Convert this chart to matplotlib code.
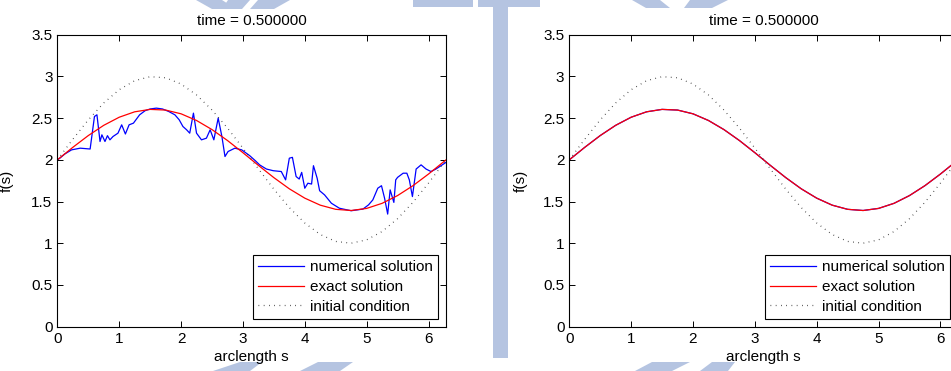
import numpy as np
import matplotlib
matplotlib.use("Agg")
import matplotlib.pyplot as plt
from matplotlib.patches import Polygon

plt.rcParams['font.family'] = ['Liberation Sans', 'DejaVu Sans']
plt.rcParams['font.size'] = 11

# arclength grid for the smooth curves
s_grid = [0.0, 0.25, 0.5, 0.75, 1.0, 1.25, 1.5, 1.75, 2.0, 2.25, 2.5, 2.75, 3.0,
          3.25, 3.5, 3.75, 4.0, 4.25, 4.5, 4.75, 5.0, 5.25, 5.5, 5.75, 6.0, 6.25, 6.2832]

exact_vals = [2.000, 2.150, 2.291, 2.414, 2.511, 2.576, 2.605, 2.597, 2.552, 2.472,
              2.363, 2.232, 2.086, 1.934, 1.787, 1.653, 1.541, 1.457, 1.407, 1.393,
              1.418, 1.479, 1.572, 1.691, 1.830, 1.980, 2.000]

initial_vals = [2.000, 2.247, 2.479, 2.682, 2.841, 2.949, 2.997, 2.984, 2.909, 2.778,
                2.598, 2.382, 2.141, 1.892, 1.649, 1.428, 1.243, 1.105, 1.022, 1.001,
                1.041, 1.141, 1.295, 1.492, 1.721, 1.967, 2.000]

# noisy numerical solution (left panel)
s_num = [0.00, 0.04, 0.12, 0.23, 0.37, 0.53, 0.60, 0.64, 0.69, 0.72, 0.77, 0.81,
         0.85, 0.90, 0.98, 1.04, 1.10, 1.16, 1.23, 1.33, 1.42, 1.50, 1.60, 1.70,
         1.80, 1.90, 1.97, 2.03, 2.09, 2.14, 2.20, 2.25, 2.33, 2.41, 2.47, 2.53,
         2.60, 2.66, 2.71, 2.76, 2.87, 2.98, 3.11, 3.20, 3.27, 3.38, 3.49, 3.62,
         3.69, 3.75, 3.80, 3.86, 3.91, 3.95, 4.00, 4.05, 4.11, 4.14, 4.20, 4.24,
         4.32, 4.43, 4.56, 4.75, 4.94, 5.03, 5.10, 5.18, 5.24, 5.29, 5.34, 5.38,
         5.44, 5.47, 5.50, 5.59, 5.65, 5.69, 5.74, 5.80, 5.88, 5.96, 6.04, 6.12,
         6.2832]
f_num = [2.00, 2.02, 2.07, 2.12, 2.14, 2.13, 2.52, 2.54, 2.22, 2.30, 2.22, 2.29,
         2.24, 2.28, 2.32, 2.42, 2.31, 2.42, 2.44, 2.54, 2.59, 2.61, 2.62, 2.61,
         2.58, 2.54, 2.48, 2.40, 2.36, 2.32, 2.56, 2.32, 2.24, 2.26, 2.36, 2.24,
         2.50, 2.28, 2.04, 2.10, 2.14, 2.12, 2.05, 1.99, 1.94, 1.89, 1.87, 1.86,
         1.76, 2.02, 2.03, 1.80, 1.77, 1.85, 1.66, 1.72, 1.71, 1.93, 1.78, 1.63,
         1.58, 1.48, 1.42, 1.39, 1.41, 1.46, 1.52, 1.66, 1.69, 1.54, 1.35, 1.64,
         1.49, 1.76, 1.79, 1.84, 1.84, 1.76, 1.56, 1.89, 1.94, 1.89, 1.86, 1.89,
         1.97]

# right panel: numerical solution matches exact one
f_num_right = list(exact_vals)

time_label = 'time = 0.500000'

W, H = 951, 371
fig = plt.figure(figsize=(W / 100, H / 100), dpi=100)

# faint background watermark (pixel outlines, only visible outside the axes)
wm_color = '#b5c4e1'
wm_shapes = [
    [(196, 0), (222, 0), (236, 9), (212, 9)],
    [(228, 0), (250, 0), (242, 9), (222, 9)],
    [(258, 0), (290, 0), (274, 9), (250, 9)],
    [(413, 0), (473, 0), (473, 7), (413, 7)],
    [(478, 0), (540, 0), (540, 7), (478, 7)],
    [(493, 7), (508, 7), (508, 358), (493, 358)],
    [(632, 0), (660, 0), (670, 8), (646, 8)],
    [(690, 0), (728, 0), (712, 8), (684, 8)],
    [(213, 371), (240, 362), (262, 362), (250, 371)],
    [(300, 371), (318, 362), (353, 362), (340, 371)],
    [(635, 371), (652, 362), (690, 362), (672, 371)],
    [(700, 371), (712, 362), (735, 362), (728, 371)],
]
for shp in wm_shapes:
    pts = [(x / W, 1 - y / H) for x, y in shp]
    fig.add_artist(Polygon(pts, closed=True, facecolor=wm_color, edgecolor='none',
                           transform=fig.transFigure, zorder=-5))

ax1 = fig.add_axes([0.0603, 0.1194, 0.4087, 0.787])
ax2 = fig.add_axes([0.5986, 0.1194, 0.4087, 0.787])


def draw_panel(ax, s_n, f_n, label_x):
    ax.plot(s_n, f_n, color=(0, 0, 1), lw=0.9, label='numerical solution')
    ax.plot(s_grid, exact_vals, color=(1, 0, 0), lw=0.9, label='exact solution')
    ax.plot(s_grid, initial_vals, color='#333333', lw=0.9, ls=(0, (0.6, 3.6)),
            label='initial condition')
    ax.set_xlim(0, 2 * np.pi)
    ax.set_ylim(0, 3.5)
    ax.set_xticks(range(7))
    ax.set_yticks([0, 0.5, 1, 1.5, 2, 2.5, 3, 3.5])
    ax.set_yticklabels(['0', '0.5', '1', '1.5', '2', '2.5', '3', '3.5'])
    ax.tick_params(direction='in', top=True, right=True, length=4, width=0.7,
                   labelsize=11)
    ax.tick_params(axis='y', pad=3.5)
    ax.tick_params(axis='x', pad=4)
    for sp in ax.spines.values():
        sp.set_linewidth(0.8)
    ax.set_title(time_label, fontsize=11, pad=7)
    ax.set_xlabel('arclength s', fontsize=11, labelpad=3)
    ax.set_ylabel('f(s)', fontsize=11)
    ax.yaxis.set_label_coords(label_x, 0.5)
    leg = ax.legend(loc='lower right', fancybox=False, framealpha=1,
                    edgecolor='black', handlelength=3.0, borderpad=0.35,
                    labelspacing=0.38, handletextpad=0.4, fontsize=11,
                    borderaxespad=0.5)
    leg.get_frame().set_linewidth(0.8)


draw_panel(ax1, s_num, f_num, -0.112)
draw_panel(ax2, s_grid, f_num_right, -0.107)

fig.savefig('out.png', dpi=100)
